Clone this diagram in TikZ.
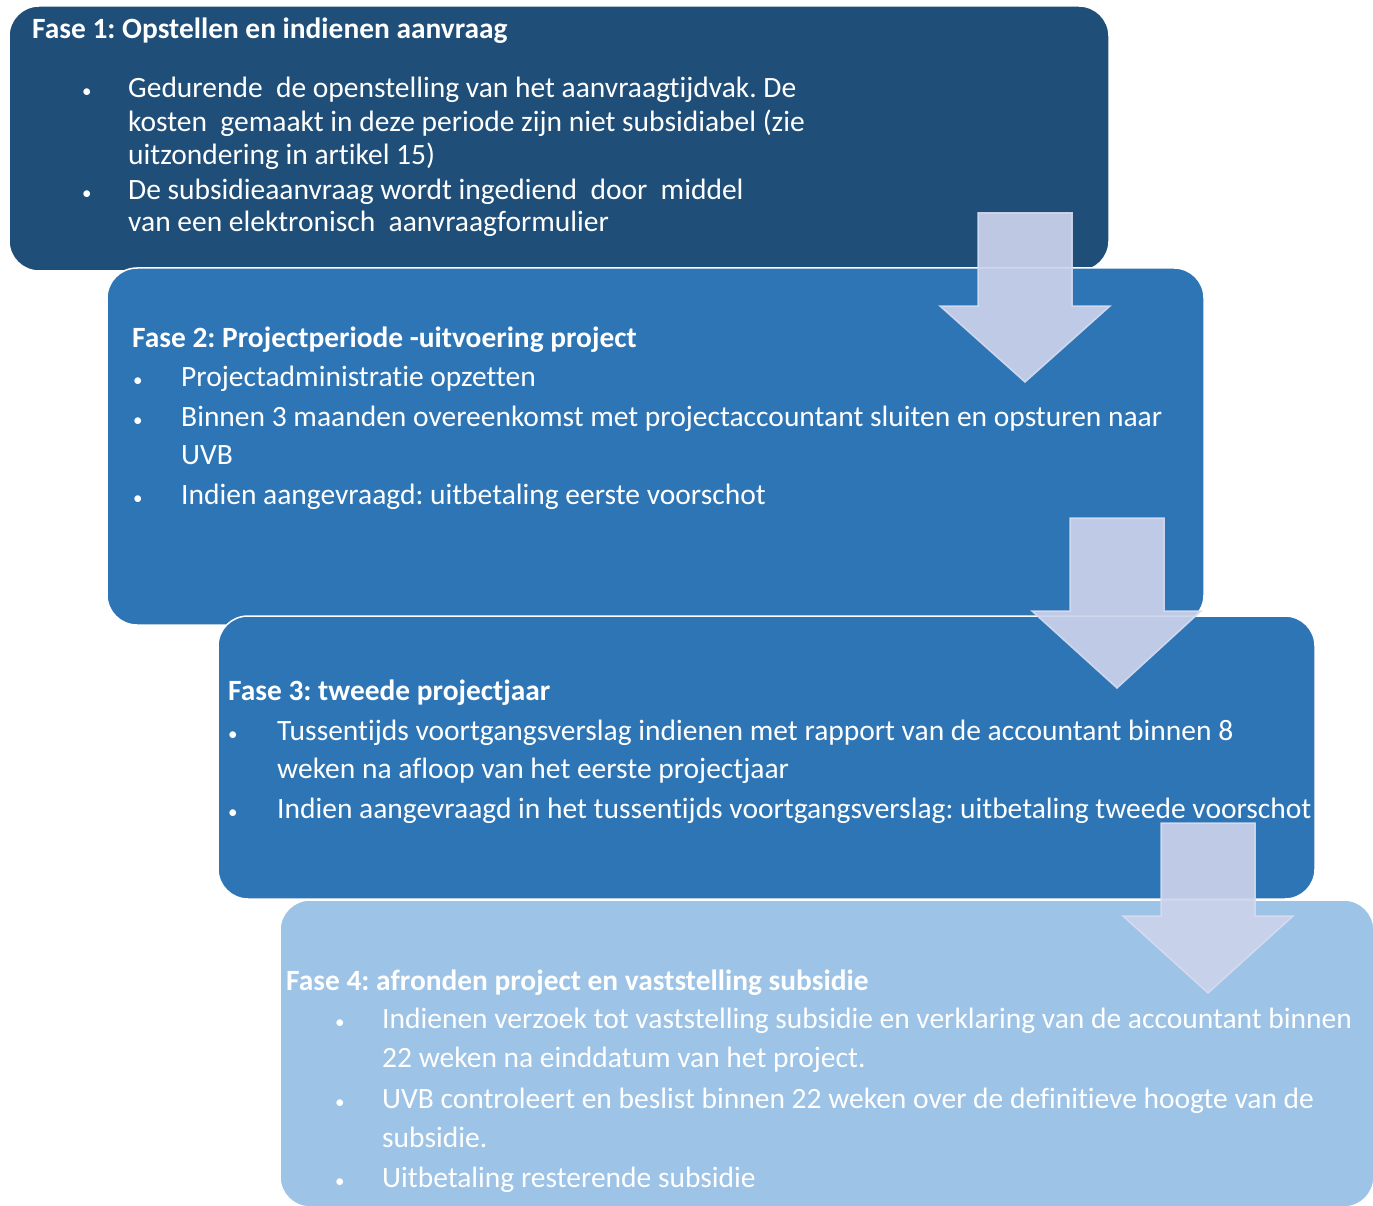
\documentclass[tikz,border=0pt]{standalone}
\usepackage{fontspec}
\setmainfont{Carlito}[Ligatures={NoCommon}]
\definecolor{cdark}{RGB}{31,78,121}
\definecolor{cmid}{RGB}{46,117,182}
\definecolor{clight}{RGB}{157,195,230}
\definecolor{carrow}{RGB}{204,211,235}
\definecolor{carrowline}{RGB}{215,220,240}
\tikzset{
  phasebox/.style={draw=white, line width=1.5pt, rounded corners=30pt},
  blockarrow/.style={fill=carrow, fill opacity=0.92, draw=carrowline, draw opacity=0.9, line width=1.5pt, line join=miter},
  ttl/.style={anchor=base west, inner sep=0pt, text=white, font=\fontsize{29.4}{33}\selectfont\bfseries},
  txt/.style={anchor=base west, inner sep=0pt, text=white, font=\fontsize{29.5}{34}\selectfont},
  bul/.style={anchor=base west, inner sep=0pt, text=white, font=\fontsize{19}{21}\selectfont},
}
\begin{document}
\frenchspacing
\begin{tikzpicture}[x=1pt,y=-1pt]
\useasboundingbox (0,0) rectangle (1373,1206);
% boxes
\draw[phasebox, fill=cdark] (9,6) rectangle (1109,271);
\draw[phasebox, fill=cmid] (107,268) rectangle (1204,625);
\draw[phasebox, fill=cmid] (218,616) rectangle (1315,899);
\draw[phasebox, fill=clight] (280,900) rectangle (1374,1207);
% phase 1
\node[ttl] (t1) at (32,39) {Fase 1: Opstellen en indienen aanvraag};
\node[bul] (p1a) at (82,98) {•};
\node[txt] (l1a) at (128,98) {Gedurende\ \ de openstelling van het aanvraagtijdvak. De};
\node[txt] (l1b) at (128,132) {kosten\ \ gemaakt in deze periode zijn niet subsidiabel (zie};
\node[txt] (l1c) at (128,165) {uitzondering in artikel 15)};
\node[bul] (p1b) at (82,200) {•};
\node[txt] (l1d) at (128,200) {De subsidieaanvraag wordt ingediend\ \ door\ \ middel};
\node[txt] (l1e) at (128,232) {van een elektronisch\ \ aanvraagformulier};
% phase 2
\node[ttl] (t2) at (132,347) {Fase 2: Projectperiode -uitvoering project};
\node[bul] (p2a) at (133,386) {•};
\node[txt] (l2a) at (181,386) {Projectadministratie opzetten};
\node[bul] (p2b) at (133,426) {•};
\node[txt] (l2b) at (181,426) {Binnen 3 maanden overeenkomst met projectaccountant sluiten en opsturen naar};
\node[txt] (l2c) at (181,464) {UVB};
\node[bul] (p2c) at (133,504) {•};
\node[txt] (l2d) at (181,504) {Indien aangevraagd: uitbetaling eerste voorschot};
% phase 3
\node[ttl] (t3) at (228,700) {Fase 3: tweede projectjaar};
\node[bul] (p3a) at (228,740) {•};
\node[txt] (l3a) at (277,740) {Tussentijds voortgangsverslag indienen met rapport van de accountant binnen 8};
\node[txt] (l3b) at (277,778) {weken na afloop van het eerste projectjaar};
\node[bul] (p3b) at (228,818) {•};
\node[txt] (l3c) at (277,818) {Indien aangevraagd in het tussentijds voortgangsverslag: uitbetaling tweede voorschot};
% phase 4
\node[ttl] (t4) at (286,990) {Fase 4: afronden project en vaststelling subsidie};
\node[bul] (p4a) at (335,1028) {•};
\node[txt] (l4a) at (382,1028) {Indienen verzoek tot vaststelling subsidie en verklaring van de accountant binnen};
\node[txt] (l4b) at (382,1067) {22 weken na einddatum van het project.};
\node[bul] (p4b) at (335,1108) {•};
\node[txt] (l4c) at (382,1108) {UVB controleert en beslist binnen 22 weken over de definitieve hoogte van de};
\node[txt] (l4d) at (382,1147) {subsidie.};
\node[bul] (p4c) at (335,1187) {•};
\node[txt] (l4e) at (382,1187) {Uitbetaling resterende subsidie};
% block arrows
\draw[blockarrow] (978,213) -- (1072,213) -- (1072,306) -- (1110,306) -- (1025,382) -- (940,306) -- (978,306) -- cycle;
\draw[blockarrow] (1070,518) -- (1164,518) -- (1164,611) -- (1201,611) -- (1117,688) -- (1032,611) -- (1070,611) -- cycle;
\draw[blockarrow] (1161,823) -- (1255,823) -- (1255,916) -- (1293,916) -- (1208,993) -- (1123,916) -- (1161,916) -- cycle;
\end{tikzpicture}
\end{document}
